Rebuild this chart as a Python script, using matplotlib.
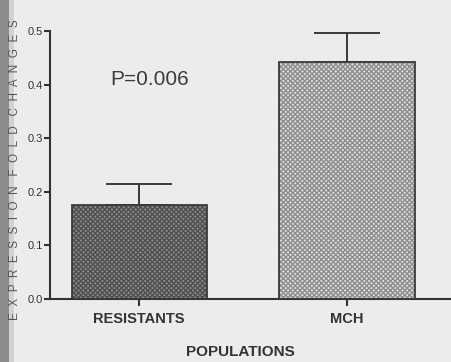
import matplotlib.pyplot as plt
import matplotlib.patches as mpatches
import numpy as np

populations = ['RESISTANTS', 'MCH']
fold_change = [0.175, 0.442]
err_upper = [0.040, 0.054]
p_text = 'P=0.006'
y_label = 'EXPRESSION FOLD CHANGES'

plt.rcParams['font.family'] = ['Liberation Sans', 'DejaVu Sans']
plt.rcParams['hatch.linewidth'] = 1.0

fig = plt.figure(figsize=[4.52, 3.62], dpi=100)
fig.patch.set_facecolor('#ececec')
# scanned page edge on the left
fig.patches.append(mpatches.Rectangle((0, 0), 0.02, 1, transform=fig.transFigure,
                                      facecolor='#8c8c8c', edgecolor='none', zorder=0))
fig.patches.append(mpatches.Rectangle((0.02, 0), 0.012, 1, transform=fig.transFigure,
                                      facecolor='#d2d2d2', edgecolor='none', zorder=0))

ax = fig.add_axes([0.111, 0.174, 0.889, 0.74])
ax.set_facecolor('none')

x = np.arange(len(populations))
faces = ['#8a8a8a', '#dedede']
hatchcols = ['#505050', '#8e8e8e']
for i in range(len(populations)):
    ax.bar(x[i], fold_change[i], width=0.65, facecolor=faces[i], edgecolor=hatchcols[i],
           hatch='xxxxxxx', linewidth=0, zorder=2)
    ax.bar(x[i], fold_change[i], width=0.65, facecolor='none', edgecolor='#3a3a3a',
           linewidth=1.3, zorder=3)
ax.errorbar(x, fold_change, yerr=[[0, 0], err_upper], fmt='none', ecolor='#3a3a3a',
            elinewidth=1.4, capsize=24, capthick=1.4, zorder=1)

ax.text(0.05, 0.409, p_text, ha='center', va='center', fontsize=15, color='#3c3c3c')

ax.set_xlim(-0.428, 1.505)
ax.set_ylim(0, 0.5)
ax.set_yticks([0.0, 0.1, 0.2, 0.3, 0.4, 0.5])
ax.set_yticklabels(['0.0', '0.1', '0.2', '0.3', '0.4', '0.5'])
ax.set_xticks(x)
ax.set_xticklabels(populations, fontsize=10.5, fontweight='bold', color='#333333')
ax.tick_params(axis='y', labelsize=8, colors='#333333', length=4, width=1.5, pad=1)
ax.tick_params(axis='x', length=5, width=1.5, pad=4, colors='#333333')
for lab in ax.get_xticklabels():
    lab.set_color('#333333')
ax.spines['top'].set_visible(False)
ax.spines['right'].set_visible(False)
ax.spines['left'].set_linewidth(1.5)
ax.spines['bottom'].set_linewidth(1.5)
ax.spines['left'].set_color('#333333')
ax.spines['bottom'].set_color('#333333')

fig.text(0.531, 0.028, 'POPULATIONS', ha='center', va='center', fontsize=11,
         fontweight='bold', color='#333333')
spaced = '   '.join('  '.join(w) for w in y_label.split(' '))
fig.text(0.034, 0.53, spaced, rotation=90, ha='center', va='center',
         fontsize=8.5, color='#555555')

fig.savefig('out.png', dpi=100, facecolor=fig.get_facecolor())
